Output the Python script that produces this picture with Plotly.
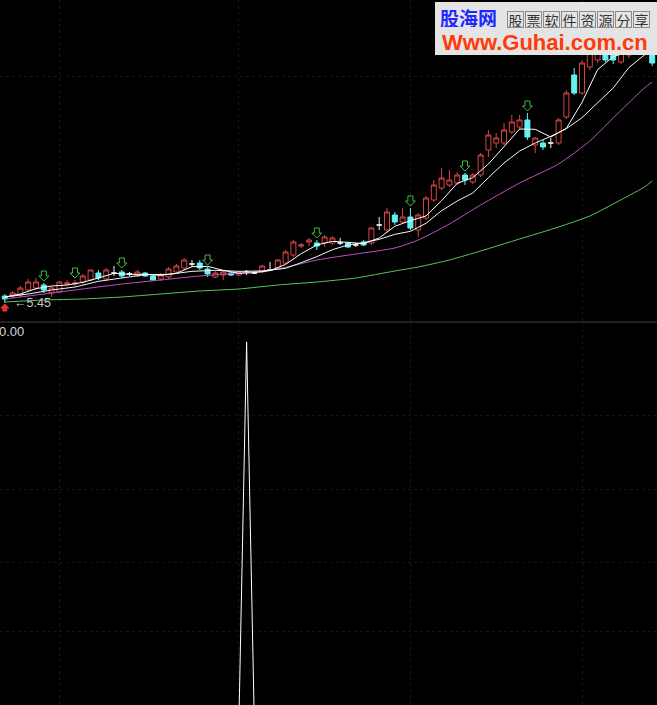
import plotly.graph_objects as go

# ---------------- data ----------------
opens = [5.66, 5.66, 5.69, 5.84, 5.90, 5.99, 5.75, 5.78, 6.02, 6.02,
         6.08, 6.14, 6.35, 6.17, 6.35, 6.38, 6.32, 6.26, 6.35, 6.26,
         6.17, 6.23, 6.38, 6.50, 6.62, 6.65, 6.47, 6.23, 6.29, 6.35,
         6.29, 6.38, 6.35, 6.38, 6.44, 6.50, 6.65, 6.89, 7.16, 7.28,
         7.25, 7.25, 7.25, 7.25, 7.25, 7.19, 7.28, 7.25, 7.79, 7.64,
         8.09, 7.88, 8.03, 7.64, 8.00, 8.54, 8.90, 8.99, 9.05, 9.29,
         9.08, 9.29, 10.04, 10.25, 10.25, 10.58, 10.73, 10.94, 10.19, 10.25,
         10.25, 10.25, 11.03, 12.29, 11.75, 12.53, 12.74, 13.04, 12.98, 12.68,
         12.89, 12.98, 13.49, 13.19]
highs = [5.72, 5.81, 5.96, 6.17, 6.20, 6.05, 5.96, 6.11, 6.14, 6.14,
         6.32, 6.44, 6.44, 6.50, 6.56, 6.44, 6.38, 6.44, 6.38, 6.29,
         6.35, 6.53, 6.62, 6.80, 6.74, 6.74, 6.53, 6.41, 6.44, 6.38,
         6.41, 6.44, 6.38, 6.59, 6.68, 6.77, 7.04, 7.34, 7.25, 7.40,
         7.34, 7.49, 7.46, 7.40, 7.28, 7.25, 7.34, 7.73, 8.03, 8.30,
         8.18, 8.30, 8.30, 8.15, 8.66, 9.14, 9.50, 9.44, 9.38, 9.35,
         9.35, 9.95, 10.64, 10.55, 10.85, 11.09, 11.09, 11.15, 10.43, 10.34,
         10.40, 11.00, 11.84, 12.50, 12.74, 13.19, 13.28, 13.19, 13.10, 13.34,
         13.49, 13.64, 13.70, 13.34]
lows = [5.45, 5.60, 5.63, 5.78, 5.84, 5.75, 5.63, 5.75, 5.96, 5.96,
        6.02, 6.11, 6.14, 6.11, 6.26, 6.20, 6.26, 6.23, 6.23, 6.11,
        6.11, 6.17, 6.32, 6.44, 6.53, 6.44, 6.23, 6.20, 6.14, 6.26,
        6.26, 6.29, 6.32, 6.35, 6.41, 6.47, 6.62, 6.83, 7.10, 7.16,
        7.04, 7.13, 7.19, 7.19, 7.10, 7.13, 7.16, 7.19, 7.64, 7.58,
        7.79, 7.82, 7.64, 7.43, 7.94, 8.48, 8.84, 8.93, 8.99, 8.99,
        9.02, 9.23, 9.83, 10.10, 10.19, 10.52, 10.67, 10.34, 9.95, 10.04,
        10.10, 10.19, 10.97, 11.69, 11.69, 12.44, 12.65, 12.68, 12.62, 12.62,
        12.80, 12.92, 12.95, 12.56]
closes = [5.57, 5.75, 5.90, 6.08, 6.08, 5.84, 5.90, 6.08, 6.05, 6.05,
          6.26, 6.44, 6.20, 6.44, 6.35, 6.26, 6.32, 6.38, 6.26, 6.14,
          6.29, 6.47, 6.56, 6.74, 6.62, 6.50, 6.32, 6.35, 6.38, 6.29,
          6.38, 6.38, 6.35, 6.56, 6.44, 6.74, 6.98, 7.28, 7.19, 7.34,
          7.16, 7.43, 7.40, 7.25, 7.13, 7.19, 7.19, 7.70, 7.79, 8.18,
          7.88, 8.03, 7.70, 8.09, 8.60, 8.99, 9.20, 9.14, 9.29, 9.14,
          9.29, 9.89, 10.49, 10.40, 10.64, 10.88, 10.94, 10.43, 10.40, 10.13,
          10.25, 10.94, 11.75, 11.75, 12.65, 13.04, 13.04, 12.74, 12.74, 13.10,
          13.34, 13.49, 13.04, 12.65]

ma5_idx = [0, 2, 4, 6, 8, 10, 12, 14, 16, 18, 20, 22, 24, 26, 28, 30, 32, 34, 36, 38,
           40, 42, 44, 46, 48, 50, 52, 54, 56, 58, 60, 62, 64, 66, 68, 70, 72, 74, 76, 78,
           80, 82, 83]
ma5_val = [5.63, 5.72, 5.88, 5.96, 5.99, 6.07, 6.20, 6.34, 6.31, 6.31,
           6.28, 6.34, 6.54, 6.55, 6.43, 6.34, 6.36, 6.42, 6.61, 6.93,
           7.19, 7.30, 7.27, 7.23, 7.40, 7.75, 7.92, 8.06, 8.52, 9.04,
           9.21, 9.62, 10.14, 10.67, 10.66, 10.43, 10.69, 11.47, 12.45, 12.84,
           12.99, 13.14, 13.12]

ma10_idx = [0, 3, 6, 9, 12, 15, 18, 21, 24, 27, 30, 33, 36, 38, 40, 42, 44, 46, 48, 50,
            52, 54, 56, 58, 60, 62, 64, 66, 68, 70, 72, 74, 76, 78, 80, 82, 83]
ma10_val = [5.63, 5.72, 5.84, 5.93, 6.10, 6.20, 6.30, 6.31, 6.40, 6.43,
            6.40, 6.41, 6.49, 6.66, 6.84, 7.05, 7.19, 7.26, 7.36, 7.51,
            7.60, 7.84, 8.22, 8.51, 8.75, 9.21, 9.65, 10.01, 10.25, 10.45,
            10.68, 11.01, 11.44, 11.90, 12.51, 12.89, 12.98]

long_idx = [0, 5, 10, 15, 20, 25, 30, 35, 40, 45, 50, 53, 57, 61, 66, 71, 75, 78, 82, 83]
ma30_val = [5.57, 5.72, 5.87, 6.02, 6.14, 6.26, 6.35, 6.47, 6.74, 6.92,
            7.10, 7.34, 7.82, 8.39, 9.05, 9.62, 10.31, 11.00, 11.90, 12.08]
ma60_val = [5.48, 5.54, 5.57, 5.63, 5.72, 5.81, 5.87, 5.99, 6.08, 6.20,
            6.41, 6.53, 6.74, 7.01, 7.37, 7.73, 8.06, 8.42, 8.93, 9.11]

signal_idx = [5, 9, 15, 26, 40, 52, 59, 67]

osc = [0, 0, 0, 0, 0, 0, 0, 0, 0, 0,
       0, 0, 0, 0, 0, 0, 0, 0, 0, 0,
       0, 0, 0, 0, 0, 0, 0, 0, 0, 0,
       0, 1, 0, 0, 0, 0, 0, 0, 0, 0,
       0, 0, 0, 0, 0, 0, 0, 0, 0, 0,
       0, 0, 0, 0, 0, 0, 0, 0, 0, 0,
       0, 0, 0, 0, 0, 0, 0, 0, 0, 0,
       0, 0, 0, 0, 0, 0, 0, 0, 0, 0,
       0, 0, 0, 0]

low_label = "\u2190{:.2f}"
zero_label = "0.00"
wm_site = "股海网"
wm_slogan = "股票软件资源分享"
wm_url = "Www.Guhai.com.cn"

# ---------------- figure ----------------
W, H = 657, 705
def fx(p): return p / W
def fy(p): return 1 - p / H

RED = "#d84444"
CYAN = "#62f2f2"
GREEN_ARROW = "#3fbf3f"

idx = list(range(len(opens)))
up = [i for i in idx if closes[i] > opens[i]]
dn = [i for i in idx if closes[i] < opens[i]]
fl = [i for i in idx if closes[i] == opens[i]]

def sub(arr, sel):
    return [arr[i] for i in sel]

fig = go.Figure()

def candle(sel, inc_col, inc_fill, dec_col, dec_fill):
    fig.add_trace(go.Candlestick(
        x=sel, open=sub(opens, sel), high=sub(highs, sel),
        low=sub(lows, sel), close=sub(closes, sel),
        increasing=dict(line=dict(color=inc_col, width=1), fillcolor=inc_fill),
        decreasing=dict(line=dict(color=dec_col, width=1), fillcolor=dec_fill),
        whiskerwidth=0, xaxis="x", yaxis="y", hoverinfo="skip"))

candle(up, RED, "#000000", RED, "#000000")
candle(dn, CYAN, CYAN, CYAN, CYAN)
candle(fl, "#f2f2f2", "#f2f2f2", "#f2f2f2", "#f2f2f2")

fig.add_trace(go.Scatter(x=long_idx, y=ma60_val, mode="lines",
                         line=dict(color="#58c858", width=1, shape="spline", smoothing=0.6),
                         xaxis="x", yaxis="y", hoverinfo="skip"))
fig.add_trace(go.Scatter(x=long_idx, y=ma30_val, mode="lines",
                         line=dict(color="#c050c0", width=1, shape="spline", smoothing=0.6),
                         xaxis="x", yaxis="y", hoverinfo="skip"))
fig.add_trace(go.Scatter(x=ma10_idx, y=ma10_val, mode="lines",
                         line=dict(color="#f4f4f4", width=1),
                         xaxis="x", yaxis="y", hoverinfo="skip"))
fig.add_trace(go.Scatter(x=ma5_idx, y=ma5_val, mode="lines",
                         line=dict(color="#ffffff", width=1),
                         xaxis="x", yaxis="y", hoverinfo="skip"))

# lower indicator
fig.add_trace(go.Scatter(x=idx, y=osc, mode="lines",
                         line=dict(color="#ffffff", width=1),
                         xaxis="x2", yaxis="y2", hoverinfo="skip"))

shapes = []
arrow_path = "M0,2 L-5,7 L-2.5,7 L-2.5,12 L2.5,12 L2.5,7 L5,7 Z"
for i in signal_idx:
    shapes.append(dict(type="path", xref="x", yref="y",
                       xsizemode="pixel", ysizemode="pixel",
                       xanchor=i, yanchor=highs[i], path=arrow_path,
                       line=dict(color=GREEN_ARROW, width=1), fillcolor="rgba(0,0,0,0)"))

imin = min(idx, key=lambda i: lows[i])
shapes.append(dict(type="path", xref="x", yref="y", xsizemode="pixel", ysizemode="pixel",
                   xanchor=imin, yanchor=lows[imin],
                   path="M0,-1 L-4,-5 L-2,-5 L-2,-8 L2,-8 L2,-5 L4,-5 Z",
                   line=dict(color="#e83030", width=1), fillcolor="#e83030"))

# panel separator
shapes.append(dict(type="line", xref="paper", yref="paper", x0=0, x1=1,
                   y0=fy(322), y1=fy(322), line=dict(color="#404040", width=1)))
# watermark box
shapes.append(dict(type="rect", xref="paper", yref="paper", x0=fx(435), x1=1,
                   y0=fy(55), y1=fy(2), fillcolor="#e4e4e4", line=dict(width=0),
                   layer="above"))

annotations = [
    dict(x=imin, y=lows[imin], xref="x", yref="y", text=low_label.format(lows[imin]),
         showarrow=False, xanchor="left", yanchor="middle", xshift=7,
         font=dict(family="Liberation Sans, DejaVu Sans", size=12.5, color="#c4c4c4")),
    dict(x=0, y=fy(331), xref="paper", yref="paper", text=zero_label, showarrow=False,
         xanchor="left", yanchor="middle", xshift=-3,
         font=dict(family="Liberation Sans, Arial", size=13, color="#d8d8d8")),
    dict(x=fx(468), y=fy(17), xref="paper", yref="paper", text="<b>" + wm_site + "</b>",
         showarrow=False, xanchor="center", yanchor="middle", height=20,
         font=dict(family="Noto Sans CJK SC", size=19, color="#1e28ff")),
    dict(x=fx(545), y=fy(41.5), xref="paper", yref="paper", text="<b>" + wm_url + "</b>",
         showarrow=False, xanchor="center", yanchor="middle", height=18,
         font=dict(family="Liberation Sans, Arial", size=22, color="#ff3a0a")),
]
for k, ch in enumerate(wm_slogan):
    annotations.append(dict(x=fx(515 + 18 * k), y=fy(19), xref="paper", yref="paper",
                            text=ch, showarrow=False, xanchor="center", yanchor="middle",
                            width=15, height=15, borderpad=0, borderwidth=1,
                            bordercolor="#8c8c8c",
                            font=dict(family="Noto Sans CJK SC", size=14, color="#333333")))

gcol = "#151515"
fig.update_layout(
    width=W, height=H, margin=dict(l=0, r=0, t=0, b=0),
    paper_bgcolor="#000000", plot_bgcolor="#000000",
    showlegend=False, hovermode=False,
    boxgap=0.2, boxgroupgap=0.2,
    xaxis=dict(domain=[0, 1], range=[-0.615, 83.615], anchor="y",
               rangeslider=dict(visible=False), showticklabels=False,
               tickvals=[7, 30, 52, 74], showgrid=True, gridcolor=gcol,
               griddash="dot", zeroline=False, showline=False, ticks=""),
    yaxis=dict(domain=[fy(322), 1], range=[4.88, 14.54], anchor="x",
               showticklabels=False, tickvals=[12.26], showgrid=True,
               gridcolor=gcol, griddash="dot", zeroline=False, ticks=""),
    xaxis2=dict(domain=[0, 1], range=[-0.615, 83.615], anchor="y2", matches="x",
                showticklabels=False, tickvals=[7, 30, 52, 74], showgrid=True,
                gridcolor=gcol, griddash="dot", zeroline=False, ticks=""),
    yaxis2=dict(domain=[0, fy(323)], range=[0.057, 1.049], anchor="x2",
                showticklabels=False, tickvals=[0.247, 0.426, 0.616, 0.81], showgrid=True,
                gridcolor=gcol, griddash="dot", zeroline=False, ticks=""),
    shapes=shapes, annotations=annotations,
)

fig.write_html("out.html", config={"displayModeBar": False},
               post_script="document.body.style.margin='0';document.body.style.overflow='hidden';document.body.style.background='#000';")
